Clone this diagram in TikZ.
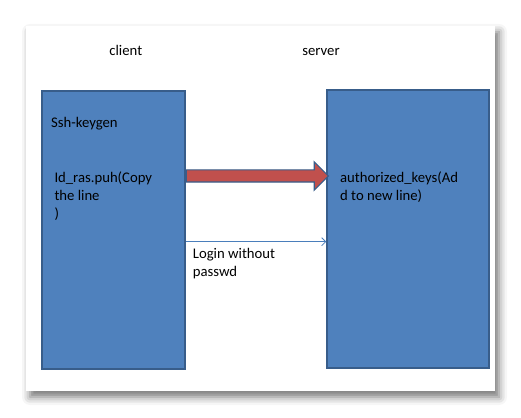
\documentclass[tikz,border=0pt]{standalone}
\usepackage{fontspec}
\setmainfont{Carlito}
\usetikzlibrary{shapes.arrows, arrows.meta, shadows.blur}
\definecolor{boxfill}{HTML}{4F81BD}
\definecolor{boxline}{HTML}{385D8A}
\definecolor{keyred}{HTML}{C0504D}
\definecolor{loginline}{HTML}{4A7EBB}

\begin{document}
\begin{tikzpicture}[x=1pt, y=1pt,
  every node/.style={font=\fontsize{14.7}{18}\selectfont, text=black},
  page/.style={rectangle, fill=white, inner sep=0pt,
               minimum width=469pt, minimum height=365pt,
               blur shadow={shadow xshift=4pt, shadow yshift=-6pt,
                            shadow blur radius=8pt, shadow opacity=55}},
  host/.style={rectangle, draw=boxline, fill=boxfill, line width=1.5pt, inner sep=0pt},
  head/.style={inner sep=0pt, anchor=base},
  txt/.style={inner sep=0pt, anchor=base west, align=left},
  keyarr/.style={single arrow, draw=boxline, fill=keyred, line width=1.2pt,
                 minimum height=142pt, inner xsep=0pt, inner ysep=5.5pt,
                 single arrow head extend=8pt, single arrow head indent=0pt,
                 anchor=tail},
  loginarr/.style={-{Straight Barb[length=4pt, width=8pt]}, color=loginline, line width=0.8pt},
]
\useasboundingbox (0,0) rectangle (521,417);
\node[page] (page) at (260.5,208.5) {};
% the two hosts
\node[host, minimum width=143pt, minimum height=278pt] (clientbox) at (113.5,187) {};
\node[host, minimum width=162pt, minimum height=278pt] (serverbox) at (408,188) {};
\node[head] (client) at (125.8,361) {client};
\node[head] (server) at (321,361)   {server};
% texts in the boxes (base = last line)
\node[txt] (keygen)   at (51,289)    {Ssh-keygen};
\node[txt] (idras)    at (54.3,198)  {Id\_ras.puh(Copy\\the line\\)};
\node[txt] (authkeys) at (340,216)   {authorized\_keys(Ad\\d to new line)};
% connectors
\node[keyarr] (copykey) at ([yshift=54pt]clientbox.east) {};
\draw[loginarr] ([yshift=-11.7pt]clientbox.east) -- ([yshift=-11.7pt]clientbox.east -| serverbox.west);
\node[txt] (login) at (192.7,140.5) {Login without\\passwd};
\end{tikzpicture}
\end{document}
